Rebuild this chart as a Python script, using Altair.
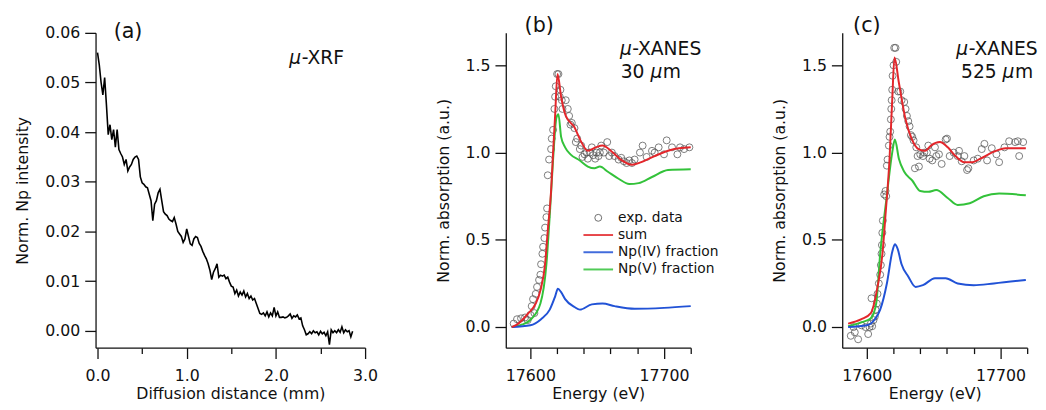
import altair as alt
import pandas as pd

FONT = "DejaVu Sans"

# ---------------- panel (a): micro-XRF profile ----------------
XRF_STEP_MM = 0.02
XRF_INTENSITY = [
    0.0560, 0.0535, 0.0500, 0.0475, 0.0510, 0.0455, 0.0395, 0.0415, 0.0385, 0.0405,
    0.0370, 0.0405, 0.0365, 0.0357, 0.0350, 0.0335, 0.0345, 0.0322, 0.0330, 0.0335,
    0.0345, 0.0350, 0.0352, 0.0345, 0.0310, 0.0298, 0.0295, 0.0290, 0.0288, 0.0275,
    0.0262, 0.0222, 0.0255, 0.0262, 0.0278, 0.0285, 0.0262, 0.0240, 0.0235, 0.0232,
    0.0225, 0.0222, 0.0220, 0.0228, 0.0215, 0.0200, 0.0195, 0.0190, 0.0178, 0.0185,
    0.0205, 0.0190, 0.0175, 0.0172, 0.0185, 0.0190, 0.0188, 0.0176, 0.0170, 0.0160,
    0.0152, 0.0145, 0.0135, 0.0122, 0.0103, 0.0118, 0.0125, 0.0135, 0.0108, 0.0112,
    0.0110, 0.0112, 0.0105, 0.0108, 0.0098, 0.0090, 0.0088, 0.0075, 0.0082, 0.0070,
    0.0078, 0.0072, 0.0080, 0.0068, 0.0075, 0.0065, 0.0070, 0.0062, 0.0065, 0.0055,
    0.0045, 0.0035, 0.0033, 0.0036, 0.0030, 0.0038, 0.0028, 0.0036, 0.0030, 0.0047,
    0.0030, 0.0038, 0.0027, 0.0027, 0.0028, 0.0026, 0.0027, 0.0030, 0.0034, 0.0025,
    0.0030, 0.0028, 0.0032, 0.0024, 0.0026, 0.0010, 0.0002, -0.0008, -0.0006, -0.0002,
    -0.0006, 0.0000, -0.0004, -0.0002, -0.0008, -0.0001, -0.0006, -0.0003, -0.0010, -0.0002,
    -0.0028, 0.0002, -0.0004, 0.0000, -0.0004, 0.0002, -0.0003, 0.0008, -0.0004, 0.0002,
    -0.0002, 0.0000, -0.0012, -0.0001,
]
XRF_DISTANCE = [round(i * XRF_STEP_MM, 3) for i in range(len(XRF_INTENSITY))]

# ---------------- panel (b): XANES at 30 um ----------------
B_EXP_E = [17587.5, 17590, 17593, 17596, 17598, 17600, 17601, 17602, 17603, 17604,
           17605, 17606.5, 17607.5, 17608, 17609, 17609.5, 17610.5, 17611, 17612, 17612.5,
           17613, 17614, 17615.5, 17616, 17617, 17618, 17618.5, 17619, 17620, 17621,
           17622, 17622.5, 17623.5, 17624, 17626.5, 17628, 17629, 17630, 17631, 17633,
           17634, 17635, 17637, 17638, 17639, 17640.5, 17642, 17643, 17644.5, 17646,
           17647, 17648.5, 17649.5, 17651, 17652, 17653, 17655, 17657.5, 17659, 17661,
           17663, 17666, 17668, 17670, 17672, 17674, 17676, 17678, 17682, 17684,
           17687, 17691, 17693, 17696, 17700, 17702, 17706, 17710, 17712, 17715, 17719]
B_EXP_A = [0.02, 0.045, 0.05, 0.055, 0.04, 0.07, 0.12, 0.16, 0.08, 0.19,
           0.23, 0.27, 0.30, 0.36, 0.42, 0.46, 0.51, 0.57, 0.63, 0.68,
           0.87, 0.96, 1.02, 1.08, 1.13, 1.25, 1.32, 1.38, 1.45, 1.45,
           1.32, 1.36, 1.30, 1.25, 1.30, 1.25, 1.21, 1.16, 1.17, 1.14,
           1.06, 1.08, 1.02, 1.04, 0.975, 0.99, 1.00, 0.965, 1.00, 1.03,
           0.985, 0.965, 1.00, 0.98, 1.00, 1.04, 1.00, 1.06, 0.98, 1.00,
           0.98, 0.96, 0.97, 0.95, 0.94, 0.955, 0.94, 0.96, 1.00, 1.04,
           0.975, 1.01, 1.00, 1.03, 0.99, 1.07, 1.03, 0.99, 1.03, 1.02, 1.03]
B_SUM_E = [17586, 17591, 17598, 17604, 17607.5, 17611, 17613, 17615.5, 17617, 17618.5,
           17620.3, 17623, 17626.5, 17633, 17637.5, 17643, 17649, 17654, 17661, 17668.5,
           17676, 17683, 17693, 17705, 17720]
B_SUM_A = [0.00, 0.02, 0.075, 0.135, 0.21, 0.36, 0.55, 0.78, 1.00, 1.21,
           1.45, 1.32, 1.21, 1.145, 1.07, 1.01, 1.03, 1.04, 1.005, 0.955,
           0.93, 0.945, 0.98, 1.015, 1.03]
B_NP4_E = [17586, 17600, 17608, 17614.5, 17618.5, 17620.6, 17623, 17626, 17633, 17637,
           17646, 17654, 17663, 17678, 17700, 17720]
B_NP4_A = [0.00, 0.01, 0.045, 0.10, 0.175, 0.22, 0.20, 0.16, 0.115, 0.10,
           0.13, 0.135, 0.12, 0.105, 0.11, 0.12]
B_NP5_E = [17586, 17594, 17600.5, 17607.5, 17612, 17614.5, 17617, 17619.5, 17621, 17623,
           17626, 17630, 17637, 17643, 17648, 17652, 17658, 17666, 17674, 17681,
           17691, 17703, 17720]
B_NP5_A = [0.00, 0.015, 0.045, 0.135, 0.36, 0.64, 0.96, 1.20, 1.22, 1.09,
           1.03, 0.99, 0.955, 0.92, 0.91, 0.92, 0.89, 0.85, 0.82, 0.825,
           0.86, 0.90, 0.905]

# ---------------- panel (c): XANES at 525 um ----------------
C_EXP_E = [17588, 17591, 17593.5, 17590, 17596, 17599, 17601, 17602, 17603, 17603.5,
           17604, 17605, 17606, 17606.5, 17607.5, 17608, 17609, 17610, 17610.5, 17611,
           17611.3, 17611.6, 17612, 17613, 17614, 17614.5, 17615, 17615.5, 17616.5, 17617,
           17617.5, 17618, 17618.3, 17618.6, 17619, 17619.3, 17620, 17620.5, 17621.5, 17622,
           17623.5, 17625, 17626, 17628, 17629, 17630, 17631, 17632, 17633, 17634,
           17635, 17636, 17637, 17638, 17639, 17640, 17642, 17643, 17645, 17646,
           17647, 17649, 17651, 17652, 17654, 17656, 17659, 17660, 17662, 17665,
           17668, 17669, 17671, 17673, 17675, 17676, 17680, 17683, 17686, 17688,
           17690, 17693.5, 17697, 17699, 17703, 17706.5, 17711, 17713, 17714, 17717]
C_EXP_A = [-0.05, -0.03, -0.07, 0.0, 0.01, 0.0, -0.04, 0.0, 0.02, 0.165,
           0.005, 0.04, 0.06, 0.10, 0.135, 0.19, 0.25, 0.30, 0.355, 0.42,
           0.47, 0.54, 0.61, 0.76, 0.78, 0.75, 0.925, 0.96, 1.04, 1.09,
           1.12, 1.19, 1.25, 1.30, 1.36, 1.44, 1.50, 1.60, 1.60, 1.52,
           1.35, 1.35, 1.30, 1.29, 1.25, 1.21, 1.18, 1.15, 1.10, 1.09,
           1.07, 0.91, 1.03, 0.98, 0.92, 0.99, 0.98, 1.00, 1.00, 1.04,
           0.965, 0.955, 1.03, 0.98, 0.99, 0.935, 1.075, 1.08, 0.98, 1.00,
           0.98, 1.01, 0.95, 0.98, 0.90, 0.91, 0.955, 0.965, 1.02, 1.05,
           0.955, 1.025, 0.99, 0.945, 1.03, 1.065, 1.06, 1.065, 0.98, 1.06]
C_SUM_E = [17586, 17596, 17603, 17608, 17611.7, 17614, 17617, 17619, 17620.7, 17624,
           17629, 17633.5, 17638.7, 17643.8, 17648, 17654.7, 17660.6, 17666.4, 17673, 17679,
           17685, 17695, 17704, 17719]
C_SUM_A = [0.02, 0.045, 0.08, 0.23, 0.42, 0.645, 0.965, 1.30, 1.545, 1.40,
           1.19, 1.08, 1.02, 1.01, 1.04, 1.06, 1.03, 0.98, 0.945, 0.945,
           0.965, 1.005, 1.025, 1.025]
C_NP4_E = [17586, 17600, 17606, 17610, 17615, 17619, 17621, 17623, 17626, 17631,
           17636.5, 17642, 17651, 17659, 17668, 17680, 17695, 17719]
C_NP4_A = [0.0, 0.01, 0.045, 0.10, 0.25, 0.43, 0.475, 0.45, 0.36, 0.29,
           0.23, 0.24, 0.28, 0.28, 0.25, 0.24, 0.25, 0.27]
C_NP5_E = [17586, 17597, 17603, 17607, 17610, 17615, 17619, 17621, 17624, 17628,
           17634, 17640, 17646, 17652, 17660.5, 17668, 17677, 17687.5, 17699, 17719]
C_NP5_A = [0.005, 0.03, 0.05, 0.135, 0.42, 0.755, 1.00, 1.075, 0.965, 0.89,
           0.84, 0.78, 0.775, 0.785, 0.74, 0.70, 0.71, 0.75, 0.765, 0.755]

SERIES = ["exp. data", "sum", "Np(IV) fraction", "Np(V) fraction"]
COLORS = ["#555555", "#e3262b", "#2152d6", "#33c23a"]

ENERGY_TICKS = [17600, 17620, 17640, 17660, 17680, 17700, 17720]
ABS_TICKS = [0.0, 0.5, 1.0, 1.5]
XRF_X_TICKS = [0.0, 0.5, 1.0, 1.5, 2.0, 2.5, 3.0]
XRF_Y_TICKS = [0.0, 0.01, 0.02, 0.03, 0.04, 0.05, 0.06]

AX = dict(
    grid=False, domainColor="#111", domainWidth=1.3, tickColor="#111", tickWidth=1.3,
    labelFont=FONT, labelFontSize=16, labelColor="#111", labelFlush=False, labelOverlap=False,
    titleFont=FONT, titleFontSize=16, titleFontWeight="normal", titleColor="#111",
)

W_A, W_B, H = 274, 188, 320
TAG = 19  # size of the "mu-..." annotations
MU_W = 12.5


def txt(s, x, y, size, style="normal", align="center"):
    return alt.Chart(pd.DataFrame({"t": [s]})).mark_text(
        font=FONT, fontSize=size, fontStyle=style, align=align, baseline="middle", color="#111"
    ).encode(x=alt.value(x), y=alt.value(y), text="t:N")


# ---- panel (a)
df_a = pd.DataFrame({"d": XRF_DISTANCE, "v": XRF_INTENSITY})
line_a = alt.Chart(df_a).mark_line(color="#000", strokeWidth=1.6).encode(
    x=alt.X("d:Q", scale=alt.Scale(domain=[-0.022, 3.0], nice=False, zero=False),
            axis=alt.Axis(title="Diffusion distance (mm)", values=XRF_X_TICKS,
                          labelExpr="datum.value % 1 === 0 ? format(datum.value, '.1f') : ''",
                          tickSize={"condition": {"test": "datum.value % 1 === 0", "value": 11}, "value": 6},
                          labelPadding=9, titlePadding=3, **AX)),
    y=alt.Y("v:Q", scale=alt.Scale(domain=[-0.0034, 0.06], nice=False, zero=False),
            axis=alt.Axis(title="Norm. Np intensity", values=XRF_Y_TICKS, format=".2f",
                          tickSize=11, labelPadding=5, titlePadding=15, **AX)),
)
panel_a = alt.layer(
    line_a,
    txt("(a)", 33, -1, 21),
    txt("\u03bc", 197, 26, TAG, "italic", "left"),
    txt("-XRF", 197 + MU_W, 26, TAG, "normal", "left"),
).properties(width=W_A, height=H)


def xanes_panel(exp_e, exp_a, sum_e, sum_a, n4_e, n4_a, n5_e, n5_a, label, label_x, dist_txt, legend):
    color_scale = alt.Scale(domain=SERIES, range=COLORS)
    if legend:
        leg = alt.Legend(
            title=None, orient="none", legendX=87, legendY=181, padding=0,
            labelFont=FONT, labelFontSize=14, labelColor="#111", labelOffset=13, rowPadding=3.5,
            symbolType=alt.ExprRef("datum.value === 'exp. data' ? 'circle' : 'M-4.3,0H4.3'"),
            symbolSize=49,
            symbolStrokeWidth=alt.ExprRef("datum.value === 'exp. data' ? 1 : 2"),
        )
    else:
        leg = None
    xs = alt.X("E:Q", scale=alt.Scale(domain=[17581.6, 17720], nice=False, zero=False),
               axis=alt.Axis(title="Energy (eV)", values=ENERGY_TICKS,
                             labelExpr="datum.value % 100 === 0 ? '' + datum.value : ''",
                             tickSize={"condition": {"test": "datum.value % 100 === 0", "value": 11}, "value": 6},
                             labelPadding=9, titlePadding=3, **AX))
    ys = alt.Y("A:Q", scale=alt.Scale(domain=[-0.118, 1.686], nice=False, zero=False),
               axis=alt.Axis(title="Norm. absorption (a.u.)", values=ABS_TICKS, format=".1f",
                             tickSize=11, labelPadding=5, titlePadding=14, **AX))
    col = alt.Color("s:N", scale=color_scale, legend=leg, sort=SERIES)

    exp_df = pd.DataFrame({"E": exp_e, "A": exp_a, "s": SERIES[0]})
    sum_df = pd.DataFrame({"E": sum_e, "A": sum_a, "s": SERIES[1]})
    n4_df = pd.DataFrame({"E": n4_e, "A": n4_a, "s": SERIES[2]})
    n5_df = pd.DataFrame({"E": n5_e, "A": n5_a, "s": SERIES[3]})

    pts = alt.Chart(exp_df).mark_point(filled=False, size=50, strokeWidth=0.9, opacity=0.85).encode(
        x=xs, y=ys, color=col)
    lines = [
        alt.Chart(d).mark_line(strokeWidth=2, interpolate="monotone").encode(x=xs, y=ys, color=col)
        for d in (n5_df, n4_df, sum_df)
    ]
    num, unit_left = dist_txt
    return alt.layer(
        pts, *lines,
        txt(label, label_x, -7, 21),
        txt("\u03bc", 116, 16, TAG, "italic", "left"),
        txt("-XANES", 116 + MU_W, 16, TAG, "normal", "left"),
        txt(num, unit_left, 40, TAG, "normal", "right"),
        txt("\u03bc", unit_left + 6, 40, TAG, "italic", "left"),
        txt("m", unit_left + 6 + MU_W, 40, TAG, "normal", "left"),
    ).properties(width=W_B, height=H)


panel_b = xanes_panel(B_EXP_E, B_EXP_A, B_SUM_E, B_SUM_A, B_NP4_E, B_NP4_A, B_NP5_E, B_NP5_A,
                      "(b)", 34, ("30", 141), True)
panel_c = xanes_panel(C_EXP_E, C_EXP_A, C_SUM_E, C_SUM_A, C_NP4_E, C_NP4_A, C_NP5_E, C_NP5_A,
                      "(c)", 25, ("525", 157), False)

right_pair = alt.hconcat(panel_b, panel_c, spacing=154, bounds="flush").resolve_scale(color="independent")

chart = alt.hconcat(panel_a, right_pair, spacing=143, bounds="flush").resolve_scale(
    color="independent"
).properties(
    padding={"left": 6, "top": 4, "right": 0, "bottom": 0}, background="white"
).configure_view(stroke=None)

chart.save("out.html", embed_options={"renderer": "svg", "actions": False})
